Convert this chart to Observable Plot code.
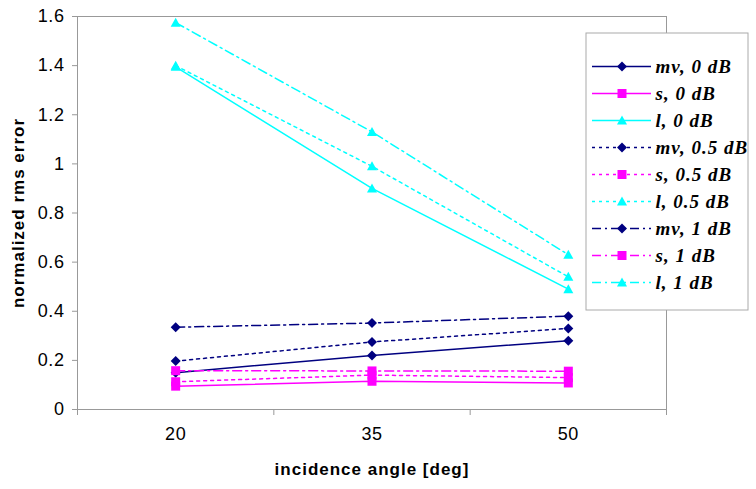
<!DOCTYPE html>
<html>
<head>
<meta charset="utf-8">
<script src="https://cdn.jsdelivr.net/npm/d3@7"></script>
<script src="https://cdn.jsdelivr.net/npm/@observablehq/plot@0.6"></script>
<style>
  body { margin: 0; background: white; }
  #wrap { position: relative; width: 756px; height: 489px; }
  #legend { position: absolute; left: 585px; top: 32px; }
  #legend text { letter-spacing: 1px; }
  #Chart g[aria-label="y-axis tick label"] text,
  #Chart g[aria-label="x-axis tick label"] text { letter-spacing: 0.6px; }
  #Chart g[aria-label="text"] text { letter-spacing: 1px; }
</style>
</head>
<body>
<div id="wrap"><div id="Chart"></div><div id="legend"></div></div>
<script>
// incidence angles (categories) and the tick labels of both axes
var angles = [20, 35, 50];
var bounds = [12.5, 27.5, 42.5, 57.5];
var yTicks = [0, 0.2, 0.4, 0.6, 0.8, 1, 1.2, 1.4, 1.6];

// series
var names = ["mv, 0 dB", "s, 0 dB", "l, 0 dB",
             "mv, 0.5 dB", "s, 0.5 dB", "l, 0.5 dB",
             "mv, 1 dB", "s, 1 dB", "l, 1 dB"];
var mv0 = [0.15, 0.22, 0.28];
var s0 = [0.095, 0.115, 0.108];
var l0 = [1.395, 0.9, 0.49];
var mv05 = [0.197, 0.275, 0.33];
var s05 = [0.113, 0.14, 0.13];
var l05 = [1.40, 0.99, 0.54];
var mv1 = [0.335, 0.352, 0.38];
var s1 = [0.158, 0.157, 0.156];
var l1 = [1.575, 1.13, 0.63];
var values = [mv0, s0, l0, mv05, s05, l05, mv1, s1, l1];

var colors = ["#000080", "#ff00ff", "#00ffff"];
var dashes = [null, "3,4", "9,4,2,4"];

// excel-like marker shapes
var diamond = { draw(c, size) { var r = Math.sqrt(size / Math.PI);
  c.moveTo(0, -r); c.lineTo(r, 0); c.lineTo(0, r); c.lineTo(-r, 0); c.closePath(); } };
var square = { draw(c, size) { var r = Math.sqrt(size / Math.PI) * 0.9;
  c.rect(-r, -r, 2 * r, 2 * r); } };
var triangle = { draw(c, size) { var r = Math.sqrt(size / Math.PI);
  c.moveTo(0, -r); c.lineTo(r, 0.8 * r); c.lineTo(-r, 0.8 * r); c.closePath(); } };
var symbols = [diamond, square, triangle];

var rows = names.flatMap((name, i) =>
  angles.map((a, j) => ({ name: name, i: i, angle: a, value: values[i][j] })));

function draw_chart() {
  var marks = [];
  names.forEach(function (name, i) {
    var d = rows.filter(r => r.i === i);
    marks.push(Plot.line(d, {
      x: "angle", y: "value", stroke: colors[i % 3], strokeWidth: 1.5,
      strokeDasharray: dashes[Math.floor(i / 3)]
    }));
    marks.push(Plot.dot(d, {
      x: "angle", y: "value", r: 5, symbol: symbols[i % 3],
      fill: colors[i % 3], stroke: "none"
    }));
  });

  var options = {
    width: 756,
    height: 489,
    marginLeft: 77,
    marginRight: 90,
    marginTop: 16,
    marginBottom: 80,
    style: { background: "white", fontFamily: "Liberation Sans", fontSize: "18px", color: "black" },
    x: { type: "linear", domain: [12.5, 57.5] },
    y: { domain: [0, 1.6] },
    marks: [
      Plot.axisY({ ticks: yTicks, tickSize: 5, tickPadding: 8, stroke: "#999", fill: "black",
        tickFormat: d => String(+d.toFixed(1)), label: null }),
      Plot.axisX({ ticks: angles, tickSize: 0, tickPadding: 18, fill: "black",
        tickFormat: d => String(d), label: null }),
      Plot.axisX({ ticks: bounds, tickSize: 6, stroke: "#999", tickFormat: () => "", label: null }),
      Plot.frame({ stroke: "#999" }),
      ...marks,
      // axis titles
      Plot.text(["normalized rms error"], { frameAnchor: "left", dx: -59, rotate: -90,
        textAnchor: "middle", fontWeight: "bold", fontSize: 17, fill: "black" }),
      Plot.text(["incidence angle [deg]"], { frameAnchor: "bottom", dy: 65, textAnchor: "middle",
        fontWeight: "bold", fontSize: 17, fill: "black" })
    ]
  };
  document.getElementById("Chart").append(Plot.plot(options));

  // legend box
  var lmarks = [Plot.frame({ stroke: "#aaa", inset: 0.5, fill: "white" })];
  names.forEach(function (name, i) {
    lmarks.push(Plot.ruleY([name], { y: d => d, x1: 0, x2: 1, stroke: colors[i % 3],
      strokeWidth: 1.5, strokeDasharray: dashes[Math.floor(i / 3)] }));
    lmarks.push(Plot.dot([name], { y: d => d, x: 0.5, r: 5, symbol: symbols[i % 3],
      fill: colors[i % 3], stroke: "none" }));
  });
  lmarks.push(Plot.text(names, { y: d => d, x: 1, dx: 4, textAnchor: "start",
    fontFamily: "Liberation Serif", fontStyle: "italic", fontWeight: "bold", fontSize: 19, fill: "black" }));

  var legend = Plot.plot({
    width: 163, height: 278,
    margin: 0,
    style: { background: "transparent", overflow: "visible" },
    x: { domain: [0, 1], range: [7, 66], axis: null },
    y: { type: "point", domain: names, range: [18, 265], axis: null },
    marks: lmarks
  });
  document.getElementById("legend").append(legend);
}
draw_chart();
</script>
</body>
</html>
